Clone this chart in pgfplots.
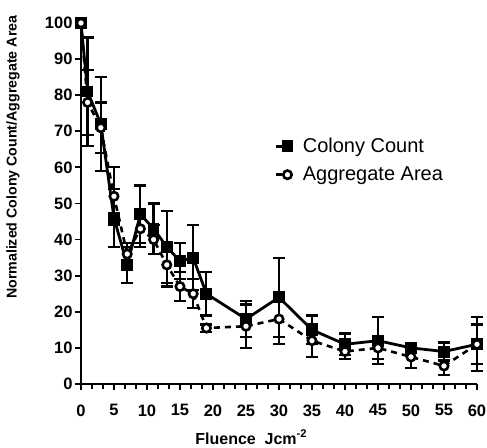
\documentclass[border=0pt]{standalone}
\usepackage{fontspec}
\setmainfont{Liberation Sans}
\usepackage{pgfplots}
\pgfplotsset{compat=1.18}
\usepackage{pgfplotstable}

% fluence, normalized value, error
\pgfplotstableread{
x y e
0 100 0
1 81 15
3 72 13
5 46 8
7 33 5
9 47 8
11 43 7
13 38 10
15 34 5
17 35 9
19 25 6
25 18 5
30 24 11
35 15 4
40 11 3
45 12 6.5
50 10 1
55 9 2.5
60 11 7.5
}\colony

\pgfplotstableread{
x y e
0 100 0
1 78 9
3 71 7
5 52 8
7 36 3
9 43 5
11 40 4
13 33 6
15 27 4
17 25 4
19 15.5 1
25 16 6
30 18 7
35 12 4.5
40 9 2
45 10 3
50 7.5 3
55 5 2.5
60 11 5.5
}\aggregate

\begin{document}
\begin{tikzpicture}
\useasboundingbox (-81pt,-63pt) rectangle (406pt,384pt);
\begin{axis}[
  scale only axis, width=396pt, height=361pt,
  xmin=0, xmax=60, ymin=0, ymax=100,
  axis lines=left, axis line style={line width=2.6pt,-},
  clip=false,
  xtick={0,5,...,60}, ytick={0,10,...,100},
  minor x tick num=2,
  tick style={line width=1.8pt,black},
  major tick length=6pt, minor tick length=5pt,
  tick align=outside,
  ticklabel style={font=\bfseries\fontsize{16.5}{16.5}\selectfont},
  /pgf/number format/assume math mode=true,
  xticklabel style={yshift=-11pt},
  yticklabel style={xshift=1pt},
  xlabel={Fluence\ \ Jcm\textsuperscript{-2}},
  ylabel={Normalized Colony Count/Aggregate Area},
  xlabel style={font=\bfseries\fontsize{16}{16}\selectfont,
    at={(axis description cs:0.43,-0.147)},anchor=center},
  ylabel style={font=\bfseries\fontsize{14.2}{14.2}\selectfont,
    at={(axis description cs:-0.172,0.628)},anchor=center},
  legend style={at={(axis description cs:0.482,0.69)},anchor=north west,
    draw=none,fill=none,font=\fontsize{20}{20}\selectfont,
    row sep=11pt,nodes={inner sep=1pt},
    /tikz/every odd column/.append style={column sep=9pt}},
  legend cell align=left,
  legend image code/.code={\draw[mark repeat=2,mark phase=2,#1] plot coordinates {(0pt,0pt) (11pt,0pt) (15pt,0pt)};},
  error bars/error bar style={line width=2.2pt,black,solid},
  error bars/error mark options={line width=2.2pt,mark size=6pt,rotate=90,solid},
]
\addplot[black,line width=2.8pt,mark=square*,mark size=4.5pt,
  error bars/.cd,y dir=both,y explicit]
  table[x=x,y=y,y error=e]{\colony};
\addlegendentry{Colony Count}
\addplot[black,line width=2.6pt,dash pattern=on 6pt off 5pt,mark=*,mark size=4.2pt,
  mark options={solid,fill=white,line width=2.6pt},
  error bars/.cd,y dir=both,y explicit]
  table[x=x,y=y,y error=e]{\aggregate};
\addlegendentry{Aggregate Area}
\end{axis}
\end{tikzpicture}
\end{document}
